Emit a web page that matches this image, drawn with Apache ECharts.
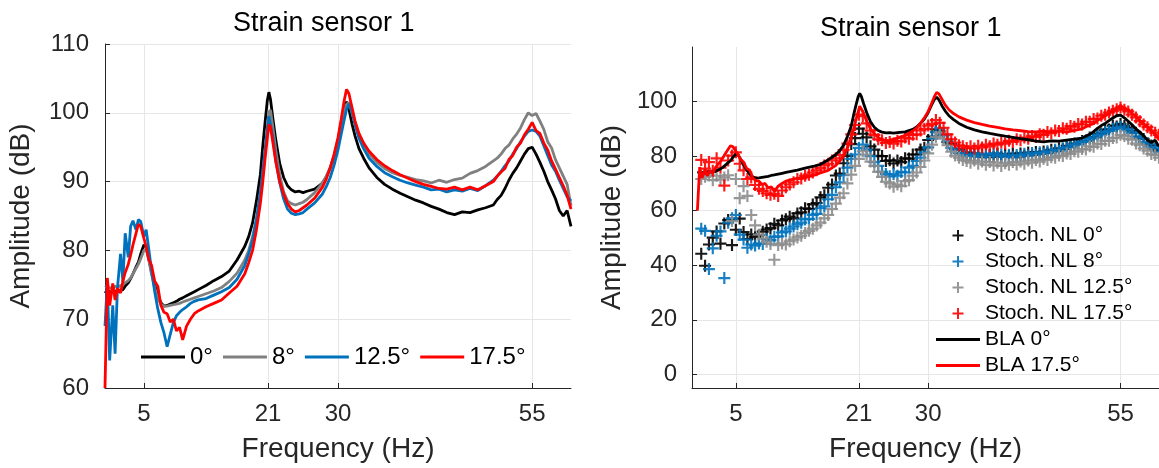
<!DOCTYPE html>
<html>
<head>
<meta charset="utf-8">
<script src="https://cdn.jsdelivr.net/npm/echarts@6/dist/echarts.min.js"></script>
<style>
  html, body { margin: 0; padding: 0; background: #fff; }
  #chart { width: 1159px; height: 468px; }
</style>
</head>
<body>
<div id="chart"></div>
<script>
// frequency grid of the measured lines (Hz)
const freqL = [
  0, 0.3, 0.6, 1, 1.3, 1.6, 2, 2.3, 2.6, 3, 3.3, 3.6, 4,
  4.3, 4.6, 5, 5.3, 5.6, 6,
  6.4, 6.8, 7.2, 7.6, 8, 8.4, 8.8, 9.2, 9.6, 10,
  10.5, 11, 11.5, 12,
  13, 14, 15, 16, 17, 18,
  18.5, 19, 19.5, 20,
  20.3, 20.6, 20.9, 21.1, 21.3, 21.6, 22,
  22.5, 23, 23.5, 24, 24.5, 25, 25.5, 26,
  27, 28, 28.5, 29, 29.5, 30,
  30.4, 30.8, 31.1, 31.4, 31.8, 32.2, 32.7, 33.3, 34,
  35, 36, 37, 38, 39, 40, 41, 42, 43, 44, 45, 46, 47, 48, 49, 50,
  50.5, 51, 51.5, 52, 52.5, 53, 53.5, 54, 54.5, 55, 55.5, 56, 56.5, 57, 57.5, 58, 58.5, 59, 59.5, 60
];

// amplitude (dB), one array per angle
const amp0 = [
  73.8, 74.2, 74.0, 73.9, 74.1, 74.0, 74.2, 74.3, 74.8, 75.3, 75.9, 76.6, 77.6,
  78.3, 79.5, 80.8, 80.5, 79.0, 76.8,
  75.0, 73.4, 72.4, 71.9, 72.0, 72.2, 72.4, 72.6, 72.9, 73.1,
  73.4, 73.7, 74.0, 74.3,
  74.9, 75.6, 76.2, 77.0, 78.6, 80.6,
  82.0, 84.0, 87.2, 91.0,
  95.0, 98.5, 101.8, 103.0, 102.0, 99.3, 96.0,
  92.6, 90.6, 89.4, 88.8, 88.5, 88.6, 88.4, 88.6,
  88.9, 89.8, 90.7, 92.0, 93.6, 96.0,
  98.5, 100.8, 101.6, 100.6, 98.4, 96.6, 94.8, 93.4, 92.0,
  90.6, 89.6, 88.9, 88.3, 87.8, 87.3, 86.9, 86.4, 86.0, 85.5, 85.2, 85.6, 85.5, 85.9, 86.2, 86.6,
  87.4, 88.0, 89.0, 90.2, 91.2, 92.0, 93.0, 94.0, 94.8, 95.0, 94.0, 92.8, 91.5, 90.0, 88.8, 87.5, 85.8, 85.0, 85.8, 83.5
];
const amp8 = [
  74.6, 74.8, 74.5, 74.6, 74.8, 74.6, 74.9, 75.0, 75.3, 75.6, 76.0, 76.6, 77.4,
  78.0, 78.8, 80.0, 80.2, 78.8, 76.5,
  74.6, 73.0, 72.2, 71.9, 71.9, 72.0, 72.1, 72.2, 72.3, 72.5,
  72.7, 72.9, 73.1, 73.3,
  73.7, 74.1, 74.6, 75.5, 76.7, 78.6,
  80.0, 82.0, 84.5, 87.8,
  90.7, 94.5, 97.8, 100.0, 100.4, 98.0, 94.5,
  91.0, 88.5, 87.2, 86.8, 86.6, 86.8, 87.0, 87.4,
  88.4, 89.8, 90.8, 92.0, 93.8, 96.0,
  98.2, 100.2, 101.2, 101.5, 100.0, 98.4, 96.8, 95.5, 94.0,
  92.8, 91.9, 91.3, 90.9, 90.6, 90.3, 90.1, 89.8, 90.2, 89.9, 90.3, 90.5, 91.2, 91.6, 92.2, 93.0,
  93.4, 94.0, 94.8, 95.3, 96.2, 96.9, 97.8, 99.0, 100.0, 99.6, 99.9, 98.8, 97.6, 95.8, 94.9, 93.2, 92.0, 90.8, 89.6, 86.5
];
const amp125 = [
  69.0, 75.5, 64.0, 72.0, 65.0, 74.5, 79.5, 75.5, 82.5, 79.0, 83.5, 84.3, 83.0,
  84.5, 84.2, 82.0, 83.0, 80.5, 77.0,
  74.0, 71.5, 69.5, 68.0, 66.0, 67.8, 69.5, 70.5, 71.0, 71.4,
  71.8, 72.3, 72.6, 72.8,
  73.0, 73.5, 74.0, 74.6, 75.8, 77.8,
  79.5, 81.5, 84.5, 88.5,
  91.5, 94.5, 97.5, 99.5, 99.3, 96.5, 93.0,
  89.8, 87.5, 86.0, 85.4, 85.2, 85.3, 85.5, 86.0,
  86.9, 88.2, 89.3, 90.6, 92.4, 94.6,
  96.8, 99.0, 100.5, 101.3, 100.2, 98.2, 96.3, 94.8, 93.4,
  92.2, 91.3, 90.7, 90.2, 89.8, 89.5, 89.2, 88.8, 88.9, 88.5, 88.8, 88.6, 89.0, 88.7, 89.4, 90.2,
  90.8, 91.5, 92.3, 93.0, 94.0, 94.8, 95.8, 96.6, 97.3, 97.5, 97.3, 96.6, 95.2, 93.8, 92.4, 91.5, 90.2, 89.0, 87.8, 87.2
];
const amp175 = [
  60.0, 76.0, 72.0, 75.2, 72.8, 74.5, 73.8, 75.5, 76.8, 78.0, 79.3, 80.8, 82.5,
  83.8, 83.5, 81.8, 80.5, 78.8, 77.8,
  75.5, 74.8, 72.0, 71.0, 70.8, 69.6, 70.0, 68.3, 68.8, 67.0,
  69.0, 70.0, 70.8, 71.2,
  71.8, 72.3, 72.8, 73.8, 74.8, 76.6,
  78.2, 80.0, 83.0, 86.8,
  89.8, 93.2, 96.3, 98.3, 98.0, 95.8, 92.8,
  90.0, 88.2, 86.8, 86.0, 85.6, 85.8, 86.2, 86.6,
  87.6, 89.2, 90.4, 92.0, 94.0, 96.4,
  99.0, 101.8, 103.4, 102.8, 100.8, 98.8, 97.0, 95.6, 94.4,
  93.2, 92.3, 91.6, 91.0, 90.5, 90.0, 89.6, 89.3, 89.0, 88.9, 89.2, 88.8, 89.2, 88.8, 89.4, 90.0,
  90.8, 91.4, 91.9, 93.2, 93.8, 95.0, 95.6, 96.8, 97.6, 98.6, 97.4, 97.0, 95.6, 94.6, 93.0, 91.8, 90.6, 89.4, 88.0, 86.0
];

// frequency grid of the stochastic nonlinear distortion estimates (Hz)
const freqS = [
  0.5, 1, 1.5, 2, 2.5, 3, 3.5, 4, 4.5, 5,
  5.5, 6, 6.5, 7, 7.5, 8, 8.5, 9, 9.5, 10,
  10.5, 11, 11.5, 12, 12.5, 13, 13.5, 14, 14.5, 15,
  15.5, 16, 16.5, 17, 17.5, 18, 18.5, 19, 19.5, 20,
  20.5, 21, 21.5, 22, 22.5, 23, 23.5, 24, 24.5, 25,
  25.5, 26, 26.5, 27, 27.5, 28, 28.5, 29, 29.5, 30,
  30.5, 31, 31.5, 32, 32.5, 33, 33.5, 34, 34.5, 35,
  35.5, 36, 36.5, 37, 37.5, 38, 38.5, 39, 39.5, 40,
  40.5, 41, 41.5, 42, 42.5, 43, 43.5, 44, 44.5, 45,
  45.5, 46, 46.5, 47, 47.5, 48, 48.5, 49, 49.5, 50,
  50.5, 51, 51.5, 52, 52.5, 53, 53.5, 54, 54.5, 55,
  55.5, 56, 56.5, 57, 57.5, 58, 58.5, 59, 59.5, 60
];
const stoch0 = [
  44.2, 39.8, 47.6, 50.1, 52.4, 47.9, 55.3, 56.6, 47.4, 53.0,
  57.1, 52.2, 49.6, 51.3, 50.4, 51.0, 52.3, 53.1, 53.6, 55.2,
  54.6, 56.4, 56.9, 57.8, 57.2, 59.0, 59.4, 60.9, 60.6, 62.3,
  62.8, 64.9, 65.7, 68.4, 69.6, 72.9, 73.6, 77.4, 80.1, 84.4,
  86.6, 90.1, 88.2, 86.9, 83.6, 82.4, 80.1, 80.0, 78.2, 78.5,
  77.3, 78.4, 77.8, 79.2, 79.1, 80.6, 80.6, 82.4, 83.1, 85.9,
  87.2, 89.8, 89.1, 87.9, 85.1, 84.4, 82.6, 82.4, 81.1, 81.4,
  80.4, 81.0, 79.9, 80.7, 79.6, 80.4, 79.8, 80.9, 79.7, 80.6,
  80.0, 80.9, 79.6, 81.0, 80.2, 81.3, 80.4, 81.5, 80.8, 81.7,
  81.2, 82.3, 81.8, 82.9, 82.6, 83.8, 83.5, 84.6, 84.4, 85.5,
  85.6, 86.8, 86.9, 88.2, 88.3, 89.6, 89.8, 91.2, 90.9, 91.8,
  91.0, 90.4, 89.4, 88.6, 87.1, 86.3, 84.6, 83.9, 82.5, 82.0
];
const stoch8 = [
  53.4, 52.6, 38.6, 46.2, 50.8, 52.4, 35.3, 55.6, 57.2, 58.4,
  51.2, 49.4, 46.4, 47.6, 47.2, 48.0, 47.8, 49.6, 49.2, 50.4,
  50.6, 52.0, 52.4, 53.4, 54.2, 55.0, 55.6, 56.8, 57.0, 58.4,
  58.8, 60.9, 61.6, 64.2, 65.8, 68.6, 70.4, 73.0, 75.8, 79.0,
  80.6, 83.0, 84.2, 82.4, 80.0, 77.8, 76.4, 74.2, 73.4, 72.6,
  73.4, 72.8, 74.2, 74.0, 75.8, 76.4, 78.2, 79.4, 81.4, 83.2,
  86.4, 88.8, 90.2, 87.6, 85.4, 83.0, 82.4, 81.2, 81.0, 80.2,
  80.6, 80.0, 80.9, 79.8, 80.8, 79.9, 81.0, 80.2, 80.6, 79.7,
  80.5, 79.6, 80.4, 80.0, 80.9, 80.2, 81.1, 80.6, 81.4, 81.0,
  81.8, 81.4, 82.3, 82.0, 82.9, 83.1, 83.6, 84.2, 84.5, 85.2,
  85.6, 86.4, 86.8, 87.6, 88.0, 88.8, 89.2, 90.0, 90.4, 90.8,
  89.9, 89.4, 88.4, 87.2, 86.4, 85.2, 84.6, 83.4, 82.8, 81.6
];
const stoch125 = [
  71.6, 72.4, 73.0, 71.2, 72.8, 71.4, 72.2, 73.0, 56.2, 71.6,
  64.6, 69.0, 65.4, 58.4, 54.6, 51.2, 49.8, 48.6, 47.8, 42.0,
  47.4, 48.0, 47.6, 48.8, 49.4, 50.2, 50.8, 51.8, 52.6, 53.4,
  54.6, 55.6, 57.2, 58.4, 60.6, 62.6, 64.8, 66.4, 70.0, 73.2,
  76.4, 79.0, 81.8, 80.6, 78.0, 76.4, 74.2, 72.4, 70.6, 70.0,
  68.8, 69.6, 69.0, 70.8, 71.2, 72.8, 74.0, 76.0, 78.4, 81.0,
  84.2, 87.0, 88.6, 86.4, 84.0, 81.6, 80.2, 79.4, 78.6, 78.2,
  77.6, 78.4, 77.2, 78.0, 76.8, 77.8, 76.6, 77.6, 76.4, 77.4,
  76.8, 77.8, 76.9, 78.0, 77.2, 78.4, 77.6, 78.6, 78.0, 79.0,
  78.6, 79.6, 79.4, 80.2, 80.0, 81.0, 80.8, 81.8, 81.6, 82.6,
  82.4, 83.6, 83.4, 84.6, 84.4, 85.6, 85.6, 86.6, 86.8, 87.8,
  87.4, 86.4, 86.0, 84.6, 84.0, 82.8, 82.0, 80.8, 80.4, 79.4
];
const stoch175 = [
  78.6, 75.4, 77.8, 74.6, 79.2, 75.8, 69.2, 78.4, 80.2, 81.4,
  77.2, 74.8, 71.6, 72.2, 69.4, 68.0, 67.2, 66.4, 65.8, 66.2,
  65.4, 67.4, 68.6, 69.6, 70.4, 71.6, 71.8, 72.8, 73.2, 74.0,
  74.8, 75.6, 76.6, 77.2, 78.4, 79.2, 80.4, 82.2, 84.6, 88.0,
  91.4, 95.2, 94.6, 92.0, 89.4, 87.8, 86.2, 85.8, 84.8, 85.2,
  84.6, 85.6, 85.4, 86.8, 86.4, 87.8, 88.0, 89.4, 90.0, 91.2,
  91.8, 93.2, 92.2, 90.4, 88.0, 86.2, 85.0, 84.0, 83.6, 83.0,
  83.6, 82.8, 83.8, 83.2, 84.2, 83.6, 84.6, 84.2, 85.0, 84.6,
  85.6, 85.2, 86.2, 85.8, 86.8, 86.4, 87.4, 87.0, 88.0, 87.8,
  88.8, 88.4, 89.4, 89.2, 90.2, 90.0, 91.0, 90.8, 91.8, 91.6,
  92.6, 92.6, 93.6, 93.8, 94.8, 95.2, 96.0, 96.6, 97.2, 97.8,
  97.0, 96.4, 95.2, 94.2, 92.8, 91.6, 90.6, 89.4, 88.6, 87.8
];

const freqTicks = [5, 21, 30, 55];
const ampTicksR = [0, 20, 40, 60, 80, 100];

const FONT = '"Liberation Sans", Arial, sans-serif';
const AXIS = '#262626';
const GRIDC = '#e6e6e6';
const PLUS = 'path://M4.1,0H5.9V4.1H10V5.9H5.9V10H4.1V5.9H0V4.1H4.1Z';
const BAR = 'path://M0,0H44V3H0Z';

function pairs(xs, ys) {
  return xs.map((x, i) => [x, ys[i]]);
}

function freqAxis(gridIndex, min) {
  return {
    gridIndex: gridIndex,
    type: 'value',
    min: min,
    max: 60,
    name: 'Frequency (Hz)',
    nameLocation: 'middle',
    nameGap: 47,
    nameTextStyle: {fontSize: 28, color: AXIS, fontFamily: FONT},
    axisLine: {onZero: false, lineStyle: {color: AXIS, width: 1}},
    axisTick: {inside: true, length: 5, customValues: freqTicks, lineStyle: {color: AXIS}},
    axisLabel: {customValues: freqTicks, fontSize: 24, color: AXIS, fontFamily: FONT, margin: 14},
    splitLine: {show: true, lineStyle: {color: GRIDC, width: 1}}
  };
}

function lineSeries(name, xi, yi, ys, color) {
  return {
    name: name,
    type: 'line',
    xAxisIndex: xi,
    yAxisIndex: yi,
    data: pairs(freqL, ys),
    symbol: 'none',
    showSymbol: false,
    lineStyle: {color: color, width: 2.8},
    itemStyle: {color: color},
    z: 3
  };
}

function stochSeries(name, ys, color) {
  return {
    name: name,
    type: 'scatter',
    xAxisIndex: 1,
    yAxisIndex: 1,
    data: pairs(freqS, ys),
    symbol: PLUS,
    symbolSize: 12,
    itemStyle: {color: color, opacity: 0.9},
    z: 2
  };
}

const chart = echarts.init(document.getElementById('chart'), null, {renderer: 'canvas'});

const option = {
  animation: false,
  backgroundColor: '#ffffff',
  textStyle: {fontFamily: FONT},
  title: [
    {text: 'Strain sensor 1', left: 228, top: 5,
      textStyle: {fontSize: 27, fontWeight: 'normal', color: '#000', fontFamily: FONT}},
    {text: 'Strain sensor 1', left: 815, top: 10,
      textStyle: {fontSize: 27, fontWeight: 'normal', color: '#000', fontFamily: FONT}}
  ],
  grid: [
    {left: 105, top: 44, width: 466, height: 345},
    {left: 692, top: 47, width: 470, height: 344}
  ],
  legend: [
    {
      data: [
        {name: '0°', icon: BAR},
        {name: '8°', icon: BAR},
        {name: '12.5°', icon: BAR},
        {name: '17.5°', icon: BAR}
      ],
      left: 136, top: 340,
      orient: 'horizontal',
      itemWidth: 44, itemHeight: 14, itemGap: 10,
      textStyle: {fontSize: 24, color: '#000', fontFamily: FONT},
      selectedMode: false
    },
    {
      data: [
        {name: 'Stoch. NL 0°', icon: PLUS},
        {name: 'Stoch. NL 8°', icon: PLUS},
        {name: 'Stoch. NL 12.5°', icon: PLUS},
        {name: 'Stoch. NL 17.5°', icon: PLUS},
        {name: 'BLA 0°', icon: BAR},
        {name: 'BLA 17.5°', icon: BAR}
      ],
      left: 931, top: 220,
      orient: 'vertical',
      itemWidth: 44, itemHeight: 11, itemGap: 5,
      textStyle: {fontSize: 21, color: '#000', fontFamily: FONT},
      selectedMode: false
    }
  ],
  xAxis: [freqAxis(0, 0), freqAxis(1, -0.7)],
  yAxis: [
    {
      gridIndex: 0,
      type: 'value',
      min: 60, max: 110, interval: 10,
      name: 'Amplitude (dB)',
      nameLocation: 'middle',
      nameGap: 70,
      nameTextStyle: {fontSize: 28, color: AXIS, fontFamily: FONT},
      axisLine: {show: true, onZero: false, lineStyle: {color: AXIS, width: 1}},
      axisTick: {show: true, inside: true, length: 5, lineStyle: {color: AXIS}},
      axisLabel: {fontSize: 24, color: AXIS, fontFamily: FONT, margin: 16},
      splitLine: {show: true, lineStyle: {color: GRIDC, width: 1}}
    },
    {
      gridIndex: 1,
      type: 'value',
      min: -5, max: 120,
      name: 'Amplitude (dB)',
      nameLocation: 'middle',
      nameGap: 66,
      nameTextStyle: {fontSize: 28, color: AXIS, fontFamily: FONT},
      axisLine: {show: true, onZero: false, lineStyle: {color: AXIS, width: 1}},
      axisTick: {show: true, inside: true, length: 5, customValues: ampTicksR, lineStyle: {color: AXIS}},
      axisLabel: {customValues: ampTicksR, fontSize: 24, color: AXIS, fontFamily: FONT, margin: 15},
      splitLine: {show: true, lineStyle: {color: GRIDC, width: 1}}
    }
  ],
  series: [
    lineSeries('0°', 0, 0, amp0, '#000000'),
    lineSeries('8°', 0, 0, amp8, '#808080'),
    lineSeries('12.5°', 0, 0, amp125, '#0072BD'),
    lineSeries('17.5°', 0, 0, amp175, '#FF0000'),
    stochSeries('Stoch. NL 0°', stoch0, '#000000'),
    stochSeries('Stoch. NL 8°', stoch8, '#0072BD'),
    stochSeries('Stoch. NL 12.5°', stoch125, '#8c8c8c'),
    stochSeries('Stoch. NL 17.5°', stoch175, '#FF0000'),
    lineSeries('BLA 0°', 1, 1, amp0, '#000000'),
    lineSeries('BLA 17.5°', 1, 1, amp175, '#FF0000')
  ]
};

chart.setOption(option);
</script>
</body>
</html>
